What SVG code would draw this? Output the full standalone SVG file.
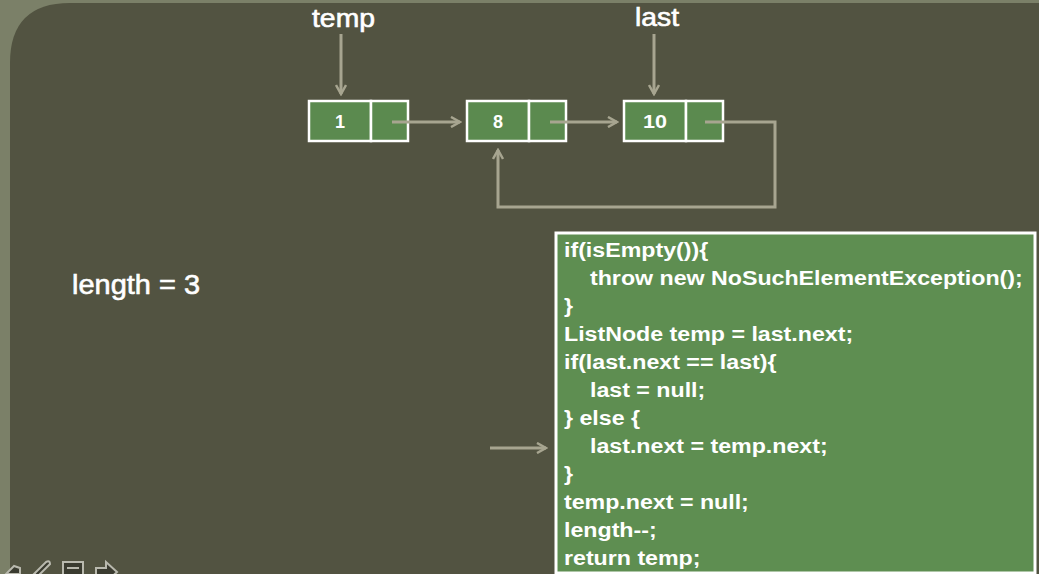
<svg xmlns="http://www.w3.org/2000/svg" width="1039" height="574" viewBox="0 0 1039 574">
<defs>
<style>
.lbl{font-family:"Liberation Sans",Arial,sans-serif;fill:#fff;stroke:#fff;stroke-width:0.6}
.num{font-family:"Liberation Sans",Arial,sans-serif;font-size:18px;font-weight:bold;fill:#fff}
.code{font-family:"Liberation Sans",Arial,sans-serif;font-size:20px;font-weight:bold;fill:#fff}
.cell{fill:#5b8a4f;stroke:#fff;stroke-width:2.5}
.conn{fill:none;stroke:#a7a590;stroke-width:3}
.icon{fill:#3a3b30;stroke:#b9b9ae;stroke-width:2}
</style>
<marker id="ah" viewBox="0 0 12 12" refX="10" refY="6" markerWidth="12" markerHeight="12" markerUnits="userSpaceOnUse" orient="auto">
<path d="M1,1 L10,6 L1,11" fill="none" stroke="#a7a590" stroke-width="2.5"/>
</marker>
</defs>
<rect width="1039" height="574" fill="#7b8068"/>
<path d="M10,574 L10,63 Q10,3 70,3 L1039,3 L1039,574 Z" fill="#525341"/>
<g id="label-temp"><text class="lbl" x="312" y="27" font-size="25" textLength="63" lengthAdjust="spacingAndGlyphs">temp</text></g>
<g id="label-last"><text class="lbl" x="635" y="26" font-size="25" textLength="44" lengthAdjust="spacingAndGlyphs">last</text></g>
<g id="node1">
<rect class="cell" x="309" y="101" width="62" height="40"/>
<rect class="cell" x="371" y="101" width="37" height="40"/>
<text class="num" x="340" y="128" text-anchor="middle">1</text>
</g>
<g id="node8">
<rect class="cell" x="467" y="101" width="62" height="40"/>
<rect class="cell" x="529" y="101" width="37" height="40"/>
<text class="num" x="498" y="128" text-anchor="middle">8</text>
</g>
<g id="node10">
<rect class="cell" x="624" y="101" width="62" height="40"/>
<rect class="cell" x="686" y="101" width="37" height="40"/>
<text class="num" x="643" y="128" textLength="24" lengthAdjust="spacingAndGlyphs">10</text>
</g>
<g id="connectors">
<line class="conn" x1="341" y1="34" x2="341" y2="94" marker-end="url(#ah)"/>
<line class="conn" x1="654" y1="34" x2="654" y2="94" marker-end="url(#ah)"/>
<line class="conn" x1="392" y1="122" x2="460" y2="122" marker-end="url(#ah)"/>
<line class="conn" x1="550" y1="122" x2="617" y2="122" marker-end="url(#ah)"/>
<polyline class="conn" points="705,122 775,122 775,207 498,207 498,150" marker-end="url(#ah)"/>
<line class="conn" x1="490" y1="448" x2="546" y2="448" marker-end="url(#ah)"/>
</g>
<g id="length"><text class="lbl" x="72" y="294" font-size="27" textLength="128" lengthAdjust="spacingAndGlyphs">length = 3</text></g>
<g id="code">
<rect x="556" y="233" width="479" height="340" fill="#5e8e51" stroke="#fff" stroke-width="3"/>
<g transform="translate(564,0) scale(1.16,1) translate(-564,0)">
<text class="code" x="564" y="257">if(isEmpty()){</text>
<text class="code" x="586.4" y="285">throw new NoSuchElementException();</text>
<text class="code" x="564" y="313">}</text>
<text class="code" x="564" y="341">ListNode temp = last.next;</text>
<text class="code" x="564" y="369">if(last.next == last){</text>
<text class="code" x="586.4" y="397">last = null;</text>
<text class="code" x="564" y="425">} else {</text>
<text class="code" x="586.4" y="453">last.next = temp.next;</text>
<text class="code" x="564" y="481">}</text>
<text class="code" x="564" y="509">temp.next = null;</text>
<text class="code" x="564" y="537">length--;</text>
<text class="code" x="564" y="565">return temp;</text>
</g>
</g>
<g id="toolbar">
<path class="icon" d="M14,566 L6,574 L20,574 L20,568 Z"/>
<path class="icon" d="M34,574 L46,562 Q50,560 50,564 L38,576 Z"/>
<rect class="icon" x="63" y="562" width="20" height="14"/>
<line x1="67" y1="568" x2="79" y2="568" stroke="#b9b9ae" stroke-width="2"/>
<path class="icon" d="M96,568 L106,568 L106,562 L117,572 L106,582 L106,576 L96,576 Z"/>
</g>
</svg>
